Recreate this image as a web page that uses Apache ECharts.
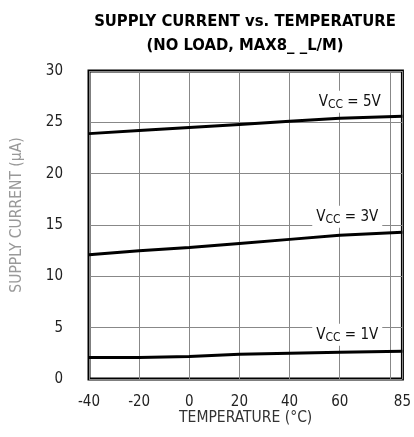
<!DOCTYPE html>
<html>
<head>
<meta charset="utf-8">
<script src="https://cdn.jsdelivr.net/npm/echarts@6/dist/echarts.min.js"></script>
<style>
  html, body { margin: 0; padding: 0; background: #fff; }
  #main { width: 414px; height: 437px; }
</style>
</head>
<body>
<div id="main"></div>
<script>
// temperatures (°C)
const temps = [-40, -20, 0, 20, 40, 60, 85];
// supply current (uA) per supply voltage
const vcc5 = [23.9, 24.2, 24.5, 24.8, 25.1, 25.4, 25.6];
const vcc3 = [12.1, 12.5, 12.8, 13.2, 13.6, 14.0, 14.3];
const vcc1 = [2.1, 2.1, 2.2, 2.4, 2.5, 2.6, 2.7];
// where the curve labels sit (data coords)
const labelPos = [[64, 27.0], [63, 15.8], [63, 4.3]];
const labelText = ['5V', '3V', '1V'];

const narrow = '"DejaVu Sans Condensed", "Liberation Sans Narrow", sans-serif';

function pairs(ys) {
    return temps.map((t, i) => [t, ys[i]]);
}

function curve(ys, idx) {
    return {
        type: 'line',
        data: pairs(ys),
        symbol: 'none',
        lineStyle: { color: '#000', width: 3 },
        z: 3,
        markPoint: {
            symbol: 'rect',
            symbolSize: 0,
            data: [{ coord: labelPos[idx] }],
            label: {
                show: true,
                position: 'inside',
                formatter: '{v|V}{s|CC}{v| = ' + labelText[idx] + '}',
                backgroundColor: '#fff',
                padding: [2, 4, 2, 4],
                rich: {
                    v: { fontFamily: narrow, fontSize: 15, color: '#111' },
                    s: { fontFamily: narrow, fontSize: 12, color: '#111', padding: [6, 0, 0, 0] }
                }
            }
        }
    };
}

const chart = echarts.init(document.getElementById('main'));
chart.setOption({
    animation: false,
    title: {
        text: 'SUPPLY CURRENT vs. TEMPERATURE\n(NO LOAD, MAX8_ _L/M)',
        left: 240,
        textAlign: 'center',
        top: 5,
        textStyle: {
            fontFamily: narrow,
            fontWeight: 'bold',
            fontSize: 16.5,
            lineHeight: 24,
            color: '#000'
        }
    },
    grid: {
        left: 89, right: 8, top: 71, bottom: 58,
        show: true,
        borderColor: '#000',
        borderWidth: 3
    },
    xAxis: {
        type: 'value',
        min: -40, max: 85, interval: 20,
        name: 'TEMPERATURE (°C)',
        nameLocation: 'middle',
        nameGap: 31,
        nameMoveOverlap: false,
        nameTextStyle: { fontFamily: narrow, fontSize: 15.5, color: '#333' },
        axisLine: { show: false },
        axisTick: { show: false },
        axisLabel: {
            margin: 16,
            fontFamily: narrow,
            fontSize: 15,
            color: '#222',
            formatter: v => (v === 80 ? '' : String(v))
        },
        splitLine: { lineStyle: { color: '#888', width: 1 } }
    },
    yAxis: {
        type: 'value',
        min: 0, max: 30, interval: 5,
        name: 'SUPPLY CURRENT (µA)',
        nameLocation: 'middle',
        nameGap: 64,
        nameTextStyle: { fontFamily: narrow, fontSize: 15.5, color: '#999', padding: [0, 0, 0, 20] },
        axisLine: { show: false },
        axisTick: { show: false },
        axisLabel: {
            margin: 26,
            fontFamily: narrow,
            fontSize: 15,
            color: '#222'
        },
        splitLine: { lineStyle: { color: '#888', width: 1 } }
    },
    series: [curve(vcc5, 0), curve(vcc3, 1), curve(vcc1, 2)]
});
</script>
</body>
</html>
